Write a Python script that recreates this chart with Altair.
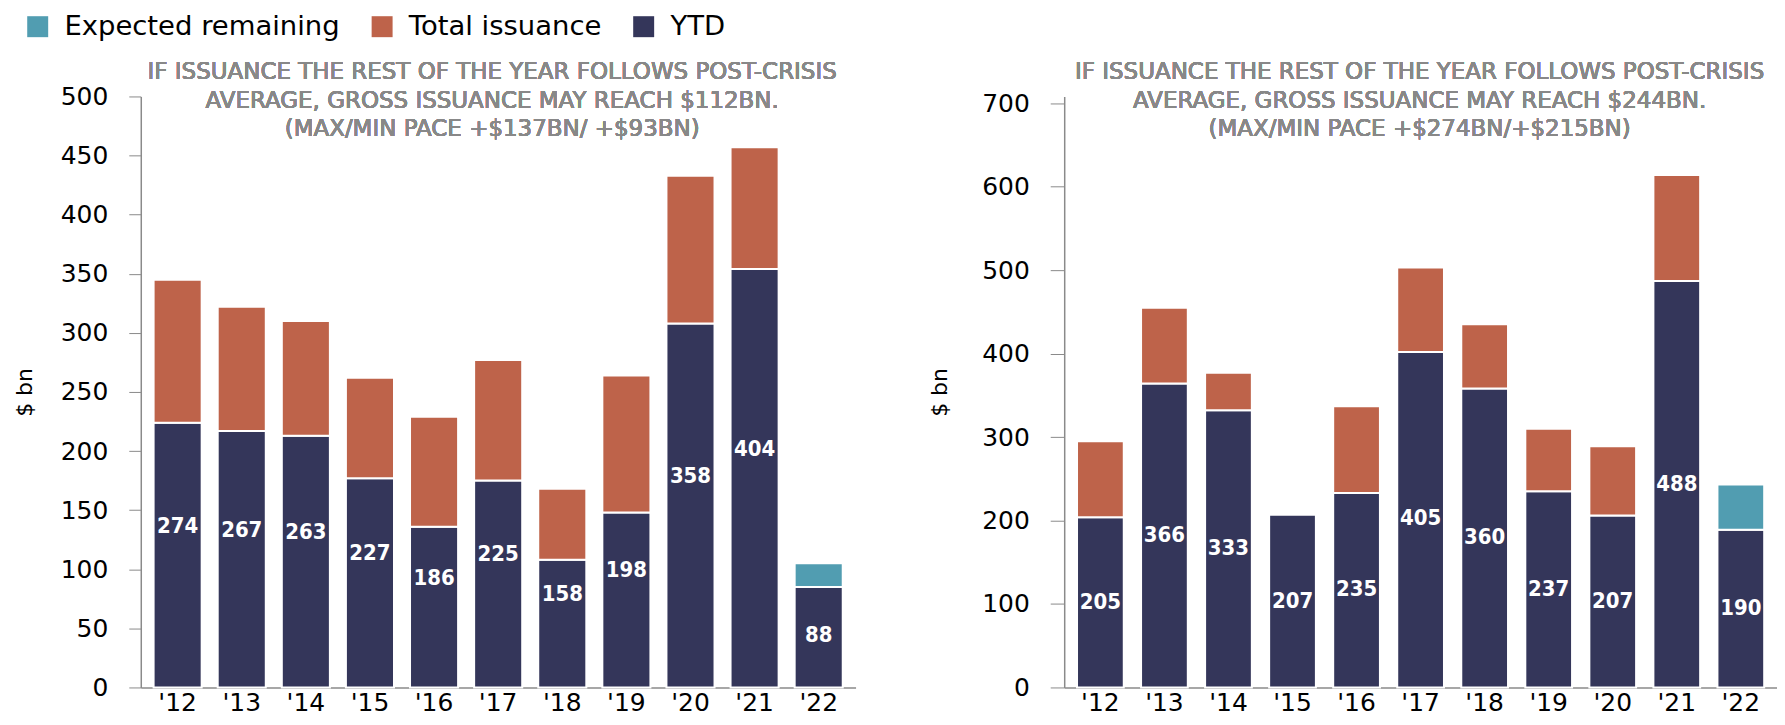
import altair as alt
import pandas as pd

years = ["'12", "'13", "'14", "'15", "'16", "'17", "'18", "'19", "'20", "'21", "'22"]

# Left panel
left_ytd = [224, 217, 213, 177, 136, 175, 108, 148, 308, 354, 85]
left_total = [345, 322, 310, 262, 229, 277, 168, 264, 433, 457, None]
left_expected = [None, None, None, None, None, None, None, None, None, None, 105]
left_labels = [274, 267, 263, 227, 186, 225, 158, 198, 358, 404, 88]
left_title = ["IF ISSUANCE THE REST OF THE YEAR FOLLOWS POST-CRISIS",
              "AVERAGE,  GROSS ISSUANCE MAY REACH $112BN.",
              "(MAX/MIN PACE +$137BN/ +$93BN)"]
left_ticks = [0, 50, 100, 150, 200, 250, 300, 350, 400, 450, 500]

# Right panel
right_ytd = [204, 364, 332, 207, 233, 402, 358, 235, 206, 487, 189]
right_total = [295, 455, 377, 207, 337, 503, 435, 310, 289, 614, None]
right_expected = [None, None, None, None, None, None, None, None, None, None, 243]
right_labels = [205, 366, 333, 207, 235, 405, 360, 237, 207, 488, 190]
right_title = ["IF ISSUANCE THE REST OF THE YEAR FOLLOWS POST-CRISIS",
               "AVERAGE, GROSS ISSUANCE MAY REACH $244BN.",
               "(MAX/MIN PACE  +$274BN/+$215BN)"]
right_ticks = [0, 100, 200, 300, 400, 500, 600, 700]

series = ["Expected remaining", "Total issuance", "YTD"]
colors = ["#519DB1", "#BE634A", "#34365A"]

FONT = "DejaVu Sans"
LFONT = "DejaVu Sans Condensed"
H = 592


def panel(ytd, total, expected, labels, title, ticks, ymax, width, show_legend,
          label_pad, title_pad, tick_size, title_cx, pad_inner):
    rows = []
    for i, yr in enumerate(years):
        rows.append({"year": yr, "series": "YTD", "lo": 0, "hi": ytd[i]})
        if total[i] is not None and total[i] > ytd[i]:
            rows.append({"year": yr, "series": "Total issuance", "lo": ytd[i], "hi": total[i]})
        if expected[i] is not None:
            rows.append({"year": yr, "series": "Expected remaining", "lo": ytd[i], "hi": expected[i]})
    bars_df = pd.DataFrame(rows)
    lab_df = pd.DataFrame({"year": years, "label": labels,
                           "mid": [v / 2 for v in labels]})

    if show_legend:
        legend = alt.Legend(orient="none", legendX=-117, legendY=-84, direction="horizontal",
                            title=None, symbolType="square", symbolSize=441,
                            symbolStrokeWidth=0, labelFontSize=27.5, labelFont=FONT,
                            labelColor="#000000", labelOffset=13, columnPadding=28,
                            labelLimit=400)
    else:
        legend = None

    xenc = alt.X("year:N", sort=years,
                 scale=alt.Scale(paddingInner=pad_inner, paddingOuter=0.2),
                 axis=alt.Axis(title=None, labelAngle=0, ticks=False, labelFont=FONT,
                               labelFontSize=25, labelColor="#000000", labelPadding=3,
                               domainColor="#8a8a8a", domainWidth=1.5))
    yscale = alt.Scale(domain=[0, ymax], nice=False)

    bars = alt.Chart(bars_df).mark_bar(stroke="white", strokeWidth=2).encode(
        x=xenc,
        y=alt.Y("hi:Q", scale=yscale,
                axis=alt.Axis(title="$ bn", values=ticks, grid=False, labelFont=FONT,
                              labelFontSize=25, labelColor="#000000",
                              labelPadding=label_pad, tickSize=tick_size,
                              tickColor="#8a8a8a", domainColor="#8a8a8a", domainWidth=1.5,
                              titleFont=FONT, titleFontSize=22, titleFontWeight="normal",
                              titleColor="#000000", titlePadding=title_pad)),
        y2="lo:Q",
        color=alt.Color("series:N", scale=alt.Scale(domain=series, range=colors),
                        legend=legend),
    )
    texts = alt.Chart(lab_df).mark_text(color="white", font=LFONT, fontSize=22,
                                        fontWeight="bold").encode(
        x=alt.X("year:N", sort=years),
        y=alt.Y("mid:Q", scale=yscale),
        text="label:N",
    )
    layers = [bars, texts]
    for ty, line in zip([-24, 5, 33], title):
        layers.append(
            alt.Chart(lab_df).mark_text(font=FONT, fontSize=23, color="#888888",
                                        baseline="middle", align="center").encode(
                x=alt.value(title_cx), y=alt.value(ty), text=alt.value(line))
        )
    return alt.layer(*layers).properties(width=width, height=H)


left = panel(left_ytd, left_total, left_expected, left_labels, left_title, left_ticks,
             500, 716, True, 21, 24, 12, 352, 0.25)
right = panel(right_ytd, right_total, right_expected, right_labels, right_title,
              right_ticks, 708, 714, False, 21, 30, 14, 356, 0.27)

chart = alt.hconcat(left, right, spacing=73).resolve_scale(color="independent").configure_view(
    stroke=None).properties(padding={"left": 5, "top": 4, "right": 0, "bottom": 0})

chart.save("out.html", embed_options={"renderer": "svg", "actions": False})
